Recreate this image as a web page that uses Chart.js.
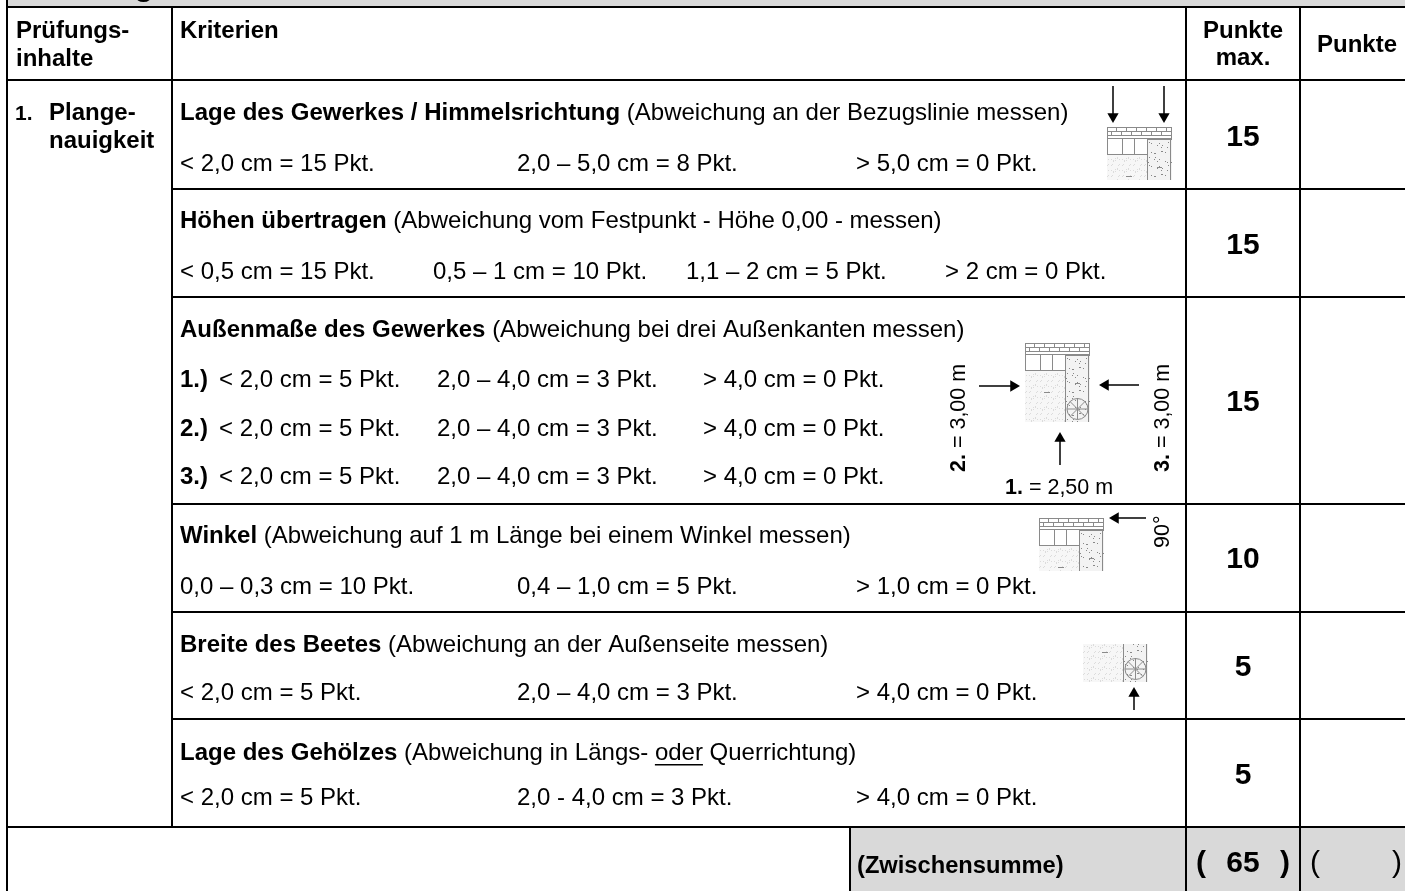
<!DOCTYPE html>
<html>
<head>
  <title>Prüfungsinhalte</title>
  <script src="https://cdn.jsdelivr.net/npm/chart.js"></script>
  <style>
    html, body { margin: 0; padding: 0; background: #fff; overflow: hidden; }
    canvas { display: block; }
  </style>
</head>
<body>
  <canvas id="sheet" width="1405" height="891"></canvas>

  <script>
    // table content
    const titles = ["Lage des Gewerkes / Himmelsrichtung", "Höhen übertragen", "Außenmaße des Gewerkes", "Winkel", "Breite des Beetes", "Lage des Gehölzes"];
    const notes = ["(Abweichung an der Bezugslinie messen)", "(Abweichung vom Festpunkt - Höhe 0,00 - messen)", "(Abweichung bei drei Außenkanten messen)", "(Abweichung auf 1 m Länge bei einem Winkel messen)", "(Abweichung an der Außenseite messen)", "(Abweichung in Längs- oder Querrichtung)"];
    const grades = [
      ["< 2,0 cm = 15 Pkt.", "2,0 – 5,0 cm = 8 Pkt.", "> 5,0 cm = 0 Pkt."],
      ["< 0,5 cm = 15 Pkt.", "0,5 – 1 cm = 10 Pkt.", "1,1 – 2 cm = 5 Pkt.", "> 2 cm = 0 Pkt."],
      ["< 2,0 cm = 5 Pkt.", "2,0 – 4,0 cm = 3 Pkt.", "> 4,0 cm = 0 Pkt."],
      ["0,0 – 0,3 cm = 10 Pkt.", "0,4 – 1,0 cm = 5 Pkt.", "> 1,0 cm = 0 Pkt."],
      ["< 2,0 cm = 5 Pkt.", "2,0 – 4,0 cm = 3 Pkt.", "> 4,0 cm = 0 Pkt."],
      ["< 2,0 cm = 5 Pkt.", "2,0 - 4,0 cm = 3 Pkt.", "> 4,0 cm = 0 Pkt."]
    ];
    const maxPoints = [15, 15, 15, 10, 5, 5];
    const subtotal = 65;
    const measures = ["1.)", "2.)", "3.)"];

    // layout, in sheet units
    const colEdges = [7, 172, 1186, 1300];
    const rowEdges = [7, 80, 189, 297, 504, 612, 719, 827];
    const subtotalEdge = 850;
    const titleY = [113, 221, 330, 536, 645, 753];
    const gradeY = [164, 272, 380, 587, 693, 798];
    const pointsY = [138, 246, 403, 560, 668, 776];
    const gradeX = [[180, 517, 856], [180, 433, 686, 945], [219, 437, 703], [180, 517, 856], [180, 517, 856], [180, 517, 856]];
    const measureY = [380, 429, 477];

    const FONT = '"Liberation Sans", Arial, sans-serif';
    const INK = '#000';

    function rule(x0, y0, x1, y1) {
      return { type: 'scatter', showLine: true, pointRadius: 0, borderColor: INK, borderWidth: 2,
        data: [{ x: x0, y: y0 }, { x: x1, y: y1 }] };
    }
    function band(x0, x1, y0, y1) {
      return { type: 'scatter', showLine: true, pointRadius: 0, borderWidth: 0, fill: { value: y1 }, order: 10,
        backgroundColor: '#d9d9d9', data: [{ x: x0, y: y0 }, { x: x1, y: y0 }] };
    }
    // arrow: shaft plus a rotated triangle point at the tip
    function arrow(x0, y0, x1, y1, rotation) {
      return { type: 'scatter', showLine: true, borderColor: INK, borderWidth: 1.5,
        pointStyle: 'triangle', pointBackgroundColor: INK, pointBorderWidth: 0,
        pointRadius: [0, 6.5], rotation: rotation, data: [{ x: x0, y: y0 }, { x: x1, y: y1 }] };
    }

    const datasets = [band(8, 1405, 0, 6), band(subtotalEdge, 1405, rowEdges[7], 891)];
    datasets.push(rule(6, rowEdges[0], 1405, rowEdges[0]), rule(colEdges[0], 0, colEdges[0], 891),
      rule(6, 80, 1405, 80), rule(6, 827, 1405, 827), rule(subtotalEdge, 827, subtotalEdge, 891));
    rowEdges.slice(2, 7).forEach(y => datasets.push(rule(colEdges[1], y, 1405, y)));
    colEdges.slice(1).forEach((x, i) => datasets.push(rule(x, 7, x, i === 0 ? 827 : 891)));
    datasets.push(
      arrow(1113, 86, 1113, 116.5, 180), arrow(1164, 86, 1164, 116.5, 180),
      arrow(979, 386, 1013.5, 386, 90), arrow(1139, 385, 1105.5, 385, 270),
      arrow(1060, 465, 1060, 438.5, 0), arrow(1146, 518, 1115.5, 518, 270),
      arrow(1134, 710, 1134, 693.5, 0)
    );

    // scattered but repeatable stipple for the plan thumbnails
    function speckled(i, j, n) {
      return (i * i * 7 + j * j * 13 + i * j * 3 + i * 5) % n === 0;
    }

    // site plan thumbnail; cropTop/cropBottom are in plan units
    function drawPlan(ctx, sx, sy, left, top, cropTop, cropBottom) {
      const W = 65;
      const X = v => sx.getPixelForValue(left + v), Y = v => sy.getPixelForValue(top + v - cropTop);
      ctx.save();
      ctx.beginPath();
      ctx.rect(X(0), Y(cropTop), W, cropBottom - cropTop);
      ctx.clip();
      ctx.fillStyle = '#f7f7f7';
      ctx.fillRect(X(0), Y(27), 40, 52);
      ctx.fillStyle = '#f3f3f3';
      ctx.fillRect(X(40), Y(12), 25, 67);
      ctx.fillStyle = '#888';
      for (let i = 0; i < 24; i++) for (let j = 0; j < 67; j++)
        if (speckled(i, j, 23)) ctx.fillRect(X(41 + i), Y(12 + j), 1, 1);
      ctx.fillStyle = '#dcdcdc';
      for (let i = 0; i < 40; i++) for (let j = 0; j < 52; j++)
        if (speckled(i, j, 11)) ctx.fillRect(X(i), Y(27 + j), 1, 1);
      ctx.strokeStyle = '#8a8a8a';
      ctx.lineWidth = 1;
      ctx.strokeRect(X(0.5), Y(0.5), 64, 11);
      ctx.beginPath();
      [4, 8].forEach(v => { ctx.moveTo(X(0), Y(v + 0.5)); ctx.lineTo(X(65), Y(v + 0.5)); });
      for (let i = 4; i < 65; i += 5) {
        ctx.moveTo(X(i + 0.5), Y(i % 2 ? 0 : 4)); ctx.lineTo(X(i + 0.5), Y(i % 2 ? 4 : 8));
      }
      ctx.moveTo(X(0.5), Y(11)); ctx.lineTo(X(0.5), Y(27));
      [15.5, 27.5].forEach(v => { ctx.moveTo(X(v), Y(12)); ctx.lineTo(X(v), Y(27)); });
      ctx.moveTo(X(40.5), Y(12)); ctx.lineTo(X(40.5), Y(79));
      ctx.moveTo(X(0), Y(27.5)); ctx.lineTo(X(40), Y(27.5));
      ctx.moveTo(X(40), Y(12.5)); ctx.lineTo(X(64), Y(12.5));
      ctx.moveTo(X(63.5), Y(12)); ctx.lineTo(X(63.5), Y(79));
      ctx.moveTo(X(19), Y(49.5)); ctx.lineTo(X(25), Y(49.5));
      ctx.moveTo(X(50), Y(40.5)); ctx.lineTo(X(55), Y(40.5));
      ctx.stroke();
      ctx.beginPath();
      ctx.arc(X(52.5), Y(66), 10.5, 0, Math.PI * 2);
      for (let a = 0; a < 8; a++) {
        ctx.moveTo(X(52.5), Y(66));
        ctx.lineTo(X(52.5) + 10.5 * Math.cos(a * Math.PI / 4), Y(66) + 10.5 * Math.sin(a * Math.PI / 4));
      }
      ctx.stroke();
      ctx.restore();
    }

    function runs(ctx, x, y, parts, size = 24) {
      parts.forEach(([text, bold, underline]) => {
        ctx.font = (bold ? 'bold ' : '') + size + 'px ' + FONT;
        ctx.fillText(text, x, y);
        const w = ctx.measureText(text).width;
        if (underline) ctx.fillRect(x, y + 11, w, 1.5);
        x += w;
      });
    }
    function vertical(ctx, x, y, parts, size) {
      ctx.save();
      ctx.translate(x, y);
      ctx.rotate(-Math.PI / 2);
      runs(ctx, 0, 0, parts, size);
      ctx.restore();
    }

    const tablePlugin = {
      id: 'tableText',
      afterDatasetsDraw(chart) {
        const { ctx, scales: { x: sx, y: sy } } = chart;
        const X = v => sx.getPixelForValue(v), Y = v => sy.getPixelForValue(v);

        drawPlan(ctx, sx, sy, 1107, 127, 0, 53);
        drawPlan(ctx, sx, sy, 1025, 343, 0, 79);
        drawPlan(ctx, sx, sy, 1039, 518, 0, 53);
        drawPlan(ctx, sx, sy, 1083, 644, 41, 79);

        ctx.save();
        ctx.fillStyle = INK;
        ctx.textAlign = 'left';

        // tail of the heading, cut off by the top of the page
        ctx.textBaseline = 'alphabetic';
        ctx.font = 'bold 32px ' + FONT;
        ctx.fillText('g', X(134), Y(-5));

        ctx.textBaseline = 'middle';
        runs(ctx, X(16), Y(31), [['Prüfungs-', true]]);
        runs(ctx, X(16), Y(59), [['inhalte', true]]);
        runs(ctx, X(180), Y(31), [['Kriterien', true]]);
        runs(ctx, X(15), Y(114), [['1.', true]], 21);
        runs(ctx, X(49), Y(113), [['Plange-', true]]);
        runs(ctx, X(49), Y(141), [['nauigkeit', true]]);

        titles.forEach((t, r) => {
          const p = notes[r].split('oder');
          const parts = [[t + ' ', true]];
          if (p.length > 1) parts.push([p[0], false], ['oder', false, true], [p[1], false]);
          else parts.push([notes[r], false]);
          runs(ctx, X(180), Y(titleY[r]), parts);
          const rows = r === 2 ? measureY : [gradeY[r]];
          rows.forEach((y, k) => {
            if (r === 2) runs(ctx, X(180), Y(y), [[measures[k], true]]);
            grades[r].forEach((g, c) => runs(ctx, X(gradeX[r][c]), Y(y), [[g, false]]));
          });
        });

        vertical(ctx, X(959), Y(472), [['2.', true], [' = 3,00 m', false]], 21.5);
        vertical(ctx, X(1163), Y(472), [['3.', true], [' = 3,00 m', false]], 21.5);
        vertical(ctx, X(1163), Y(548), [['90°', false]], 21.5);
        runs(ctx, X(1005), Y(488), [['1.', true], [' = 2,50 m', false]], 21.5);
        runs(ctx, X(857), Y(866), [['(Zwischensumme)', true]], 23.7);

        ctx.textAlign = 'center';
        ctx.font = 'bold 24px ' + FONT;
        ctx.fillText('Punkte', X(1243), Y(31));
        ctx.fillText('max.', X(1243), Y(58));
        ctx.fillText('Punkte', X(1357), Y(45));
        ctx.font = 'bold 30px ' + FONT;
        maxPoints.forEach((p, r) => ctx.fillText(String(p), X(1243), Y(pointsY[r])));
        ctx.fillText('(', X(1201), Y(864));
        ctx.fillText(String(subtotal), X(1243), Y(864));
        ctx.fillText(')', X(1285), Y(864));
        ctx.font = '30px ' + FONT;
        ctx.fillText('(', X(1315), Y(864));
        ctx.fillText(')', X(1397), Y(864));
        ctx.restore();
      }
    };

    new Chart(document.getElementById('sheet'), {
      type: 'scatter',
      data: { datasets },
      plugins: [tablePlugin],
      options: {
        responsive: false,
        animation: false,
        events: [],
        layout: { padding: 0, autoPadding: false },
        plugins: { legend: { display: false }, tooltip: { enabled: false } },
        scales: {
          x: { type: 'linear', display: false, min: 0, max: 1405 },
          y: { type: 'linear', display: false, min: 0, max: 891, reverse: true }
        }
      }
    });
  </script>
</body>
</html>
